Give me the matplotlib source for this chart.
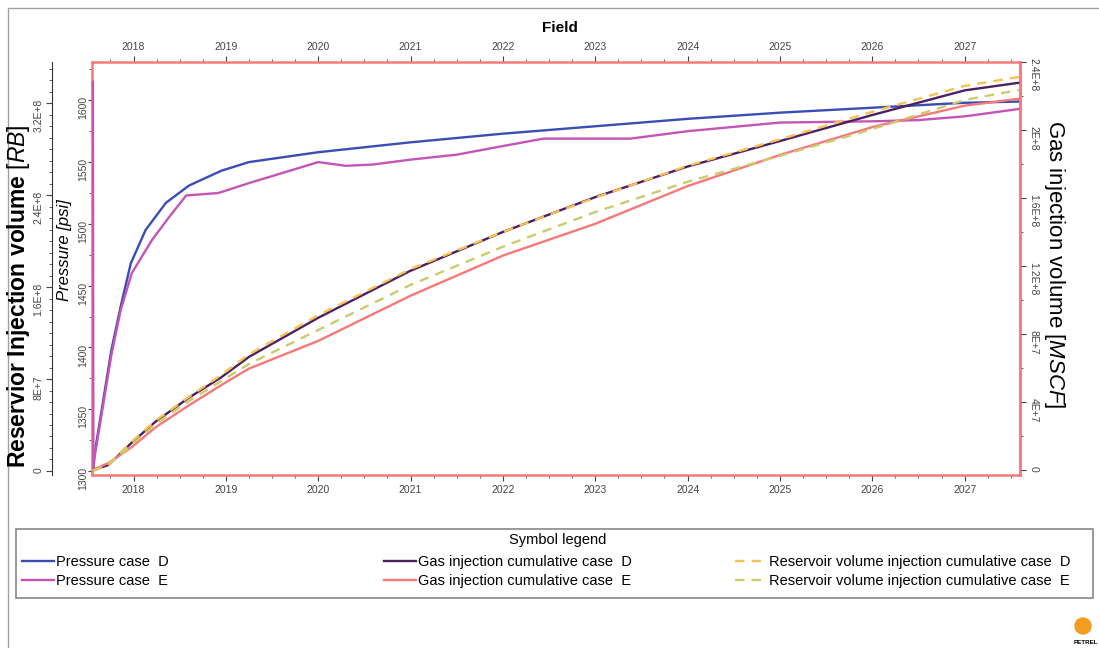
import math

import matplotlib
matplotlib.use('Agg')
import matplotlib.pyplot as plt
from matplotlib.ticker import MultipleLocator, FuncFormatter, FormatStrFormatter
from matplotlib.patches import Rectangle, Ellipse

plt.rcParams['font.family'] = ['Liberation Sans', 'DejaVu Sans']
plt.rcParams['mathtext.fontset'] = 'custom'
plt.rcParams['mathtext.it'] = 'Liberation Sans:italic'
plt.rcParams['mathtext.rm'] = 'Liberation Sans'

# pressure, psi
years_pd = [2017.56, 2017.58, 2017.76, 2017.86, 2017.97, 2018.13, 2018.35, 2018.60, 2018.95,
            2019.25, 2020.0, 2021.0, 2022.0, 2023.0, 2024.0, 2025.0, 2026.0, 2027.0, 2027.59]
pressure_d = [1303, 1315, 1398, 1433, 1468, 1495, 1517, 1531, 1543,
              1550, 1558, 1566, 1573, 1579, 1585, 1590, 1594, 1598, 1599]

years_pe = [2017.56, 2017.565, 2017.58, 2017.76, 2017.86, 2017.98, 2018.20, 2018.38, 2018.57,
            2018.92, 2019.25, 2020.0, 2020.30, 2020.59, 2021.0, 2021.5, 2022.0, 2022.44,
            2023.38, 2024.0, 2025.0, 2026.0, 2026.5, 2027.0, 2027.59]
pressure_e = [1615, 1302, 1312, 1394, 1430, 1460, 1487, 1505, 1523,
              1525, 1533, 1550, 1547, 1548, 1552, 1556, 1563, 1569,
              1569, 1575, 1582, 1583, 1584, 1587, 1593]

# cumulative volumes
years_cum = [2017.56, 2017.73, 2017.98, 2018.24, 2018.60, 2018.95, 2019.25, 2020.0,
             2021.0, 2022.0, 2023.0, 2024.0, 2025.0, 2026.0, 2027.0, 2027.59]
gas_d = [0, 2.9e6, 1.6e7, 2.85e7, 4.25e7, 5.45e7, 6.65e7, 8.95e7,
         1.172e8, 1.400e8, 1.605e8, 1.785e8, 1.935e8, 2.088e8, 2.233e8, 2.278e8]
gas_e = [0, 4.1e6, 1.34e7, 2.51e7, 3.80e7, 4.99e7, 5.96e7, 7.59e7,
         1.025e8, 1.261e8, 1.448e8, 1.670e8, 1.853e8, 2.017e8, 2.143e8, 2.184e8]
resv_d = [0, 6.1e6, 2.55e7, 4.40e7, 6.45e7, 8.35e7, 1.015e8, 1.355e8,
          1.757e8, 2.080e8, 2.378e8, 2.655e8, 2.885e8, 3.125e8, 3.35e8, 3.428e8]
resv_e = [0, 5.2e6, 2.26e7, 4.09e7, 6.09e7, 7.83e7, 9.31e7, 1.227e8,
          1.619e8, 1.951e8, 2.253e8, 2.516e8, 2.741e8, 2.974e8, 3.228e8, 3.315e8]


def sci(v, pos):
    if abs(v) < 1:
        return '0'
    e = int(math.floor(math.log10(abs(v)) + 1e-9))
    return '%gE+%d' % (round(v / 10 ** e, 2), e)


W, H = 1099, 648
fig = plt.figure(figsize=(W / 100, H / 100), dpi=100)
L, R, T, B = 92, 1020, 62, 475
ax = fig.add_axes([L / W, 1 - B / H, (R - L) / W, (B - T) / H])
ax2 = ax.twinx()
ax3 = ax.twinx()

frame = '#f27a7a'
tickc = '#444444'

l_pd, = ax.plot(years_pd, pressure_d, color='#3a4db3', lw=1.7, label='Pressure case  D')
l_pe, = ax.plot(years_pe, pressure_e, color='#c455b5', lw=1.7, label='Pressure case  E',
                zorder=3, clip_on=False)
l_gd, = ax2.plot(years_cum, gas_d, color='#4b2063', lw=1.7, label='Gas injection cumulative case  D')
l_ge, = ax2.plot(years_cum, gas_e, color='#f77878', lw=1.7, label='Gas injection cumulative case  E')
l_rd, = ax3.plot(years_cum, resv_d, color='#f8c055', lw=1.7, ls=(0, (4, 3)),
                 label='Reservoir volume injection cumulative case  D')
l_re, = ax3.plot(years_cum, resv_e, color='#c9cc6c', lw=1.7, ls=(0, (4, 3)),
                 label='Reservoir volume injection cumulative case  E')

ax.set_xlim(2017.55, 2027.6)
ax.set_ylim(1296.8, 1631)
ax2.set_ylim(-3e6, 2.4e8 + 1)
ax3.set_ylim(-3.5e6, 3.558e8)

# x axis, top and bottom
ax.xaxis.set_major_locator(MultipleLocator(1))
ax.xaxis.set_minor_locator(MultipleLocator(0.25))
ax.xaxis.set_major_formatter(FormatStrFormatter('%d'))
ax.tick_params(axis='x', which='both', top=True, labeltop=True, colors=tickc, labelsize=7.5)
ax.tick_params(axis='x', which='major', length=4, pad=3.5)
ax.tick_params(axis='x', which='minor', length=2)

# pressure axis
ax.yaxis.set_major_locator(MultipleLocator(50))
ax.yaxis.set_minor_locator(MultipleLocator(25))
ax.tick_params(axis='y', which='both', colors=tickc, labelsize=7.5, labelrotation=90, pad=0)
ax.tick_params(axis='y', which='major', length=3)
ax.tick_params(axis='y', which='minor', length=2)
for s in ax.spines.values():
    s.set_color(frame)
    s.set_linewidth(1.8)

# gas axis (right)
ax2.yaxis.set_major_locator(MultipleLocator(4e7))
ax2.yaxis.set_minor_locator(MultipleLocator(2e7))
ax2.yaxis.set_major_formatter(FuncFormatter(sci))
ax2.tick_params(axis='y', which='both', colors=tickc, labelsize=7.5, labelrotation=-90, pad=2)
ax2.tick_params(axis='y', which='major', length=4)
ax2.tick_params(axis='y', which='minor', length=2)
for k, s in ax2.spines.items():
    s.set_visible(k == 'right')
ax2.spines['right'].set_color(frame)
ax2.spines['right'].set_linewidth(1.8)

# reservoir volume axis (outer left)
ax3.yaxis.set_ticks_position('left')
ax3.yaxis.set_label_position('left')
ax3.spines['left'].set_position(('outward', 28.8))
for k, s in ax3.spines.items():
    s.set_visible(k == 'left')
ax3.spines['left'].set_color('#333333')
ax3.yaxis.set_major_locator(MultipleLocator(8e7))
ax3.yaxis.set_minor_locator(MultipleLocator(1e7))
ax3.yaxis.set_major_formatter(FuncFormatter(sci))
ax3.tick_params(axis='y', which='both', colors=tickc, labelsize=7.5, labelrotation=90, pad=2)
ax3.tick_params(axis='y', which='major', length=4)
ax3.tick_params(axis='y', which='minor', length=2)

# titles / axis labels
fig.text(560 / W, 1 - 28 / H, 'Field', fontsize=11, fontweight='bold', ha='center', va='center')
fig.text(65 / W, 1 - 250 / H, 'Pressure [psi]', fontsize=12, style='italic', rotation=90,
         ha='center', va='center')
fig.text(19 / W, 1 - 296 / H, 'Reservior Injection volume $\\mathit{[RB]}$', fontsize=16.5,
         fontweight='bold', rotation=90, ha='center', va='center')
fig.text(1055 / W, 1 - 264 / H, 'Gas injection volume $\\mathit{[MSCF]}$', fontsize=16,
         rotation=-90, ha='center', va='center')

# legend box
fig.add_artist(Rectangle((16 / W, 1 - 598 / H), (1093 - 16) / W, (598 - 529) / H,
                         transform=fig.transFigure, fill=False, ec='#888888', lw=1.2))
fig.text(558 / W, 1 - 540 / H, 'Symbol legend', fontsize=10.5, ha='center', va='center')
for x0, hs in [(22, [l_pd, l_pe]), (384, [l_gd, l_ge]), (735, [l_rd, l_re])]:
    fig.legend(handles=hs, loc='upper left', bbox_to_anchor=(x0 / W, 1 - 555 / H),
               frameon=False, fontsize=10.5, handlelength=2.2, handletextpad=0.12,
               labelspacing=0.35, borderaxespad=0, borderpad=0)

# page border and logo
fig.add_artist(Rectangle((8 / W, -0.01), 1.02, 1 - 8 / H + 0.01, transform=fig.transFigure,
                         fill=False, ec='#a0a0a0', lw=1))
fig.add_artist(Ellipse((1083 / W, 1 - 626 / H), 16 / W, 16 / H, transform=fig.transFigure,
                       color='#f39c1f'))
fig.text(1086 / W, 1 - 643 / H, 'PETREL', fontsize=4.5, fontweight='bold', ha='center', va='center')

plt.savefig('out.png', dpi=100)
plt.close()
